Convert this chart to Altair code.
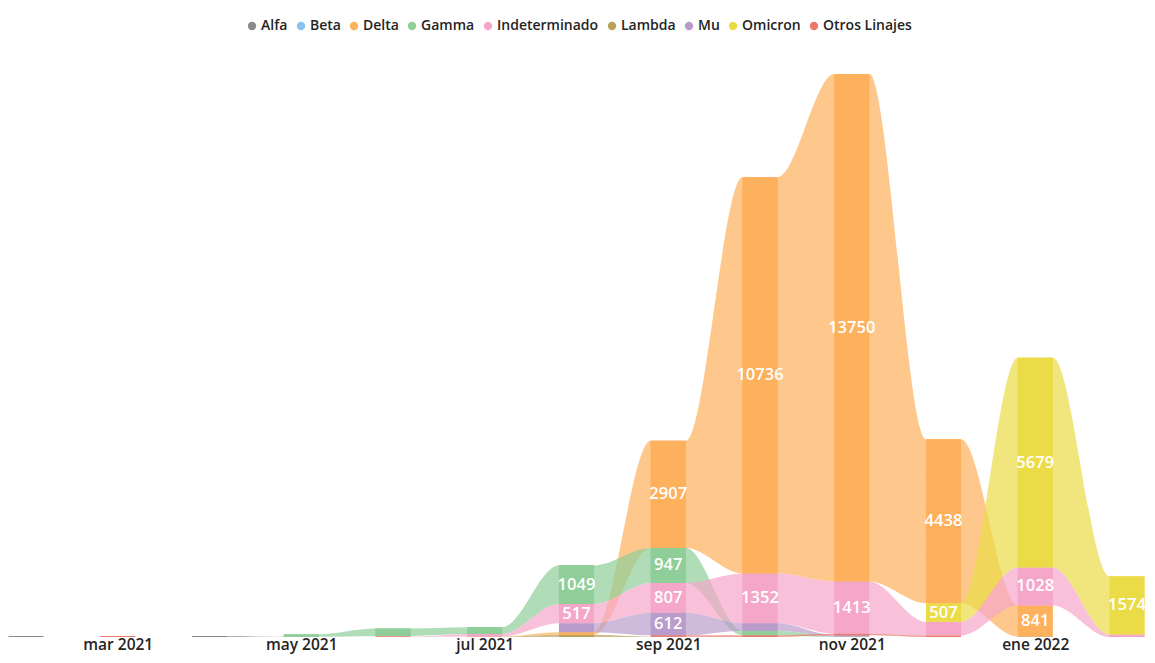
import json
import altair as alt
import pandas as pd

# ---------------- data ----------------
months = ["feb 2021", "mar 2021", "abr 2021", "may 2021", "jun 2021", "jul 2021",
          "ago 2021", "sep 2021", "oct 2021", "nov 2021", "dic 2021", "ene 2022", "feb 2022"]
tick_months = ["mar 2021", "may 2021", "jul 2021", "sep 2021", "nov 2021", "ene 2022"]

categories = ["Alfa", "Beta", "Delta", "Gamma", "Indeterminado", "Lambda", "Mu",
              "Omicron", "Otros Linajes"]
colors = ["#8A8A8A", "#8AC2EB", "#FDB15C", "#8FCE98", "#F5A7C9", "#BCA15B", "#B99CCB",
          "#EBDC47", "#EC7868"]

alfa = [25, 0, 25, 5, 0, 0, 0, 0, 0, 0, 0, 15, 0]
beta = [0, 0, 0, 0, 0, 0, 0, 0, 0, 0, 0, 0, 0]
delta = [0, 0, 0, 0, 0, 10, 70, 2907, 10736, 13750, 4438, 841, 0]
gamma = [0, 0, 0, 70, 200, 185, 1049, 947, 120, 15, 0, 0, 0]
indeterminado = [0, 0, 0, 0, 5, 65, 517, 807, 1352, 1413, 370, 1028, 70]
lambda_ = [0, 0, 0, 0, 0, 5, 60, 10, 0, 0, 0, 0, 0]
mu = [0, 0, 0, 0, 0, 0, 245, 612, 200, 30, 0, 0, 0]
omicron = [0, 0, 0, 0, 0, 0, 0, 0, 0, 0, 507, 5679, 1574]
otros = [0, 25, 0, 0, 25, 0, 0, 35, 50, 45, 40, 0, 0]

series = {
    "Alfa": alfa, "Beta": beta, "Delta": delta, "Gamma": gamma,
    "Indeterminado": indeterminado, "Lambda": lambda_, "Mu": mu,
    "Omicron": omicron, "Otros Linajes": otros,
}

# ---------------- ribbon layout (rank-stacked, largest on top) ----------------
HW = 0.191  # half bar width in month units
bars = []
pos = {}
for i in range(len(months)):
    vals = sorted([(series[c][i], c) for c in categories if series[c][i] > 0])
    base = 0
    for v, c in vals:
        bars.append(dict(cat=c, i=i, x0=i - HW, x1=i + HW, y0=base, y1=base + v,
                         ym=base + v / 2, v=v))
        pos[(c, i)] = (base, base + v)
        base += v
bars_df = pd.DataFrame(bars)
labels_df = bars_df[bars_df["v"] >= 480]

rib = []
for c in categories:
    for i in range(len(months) - 1):
        if (c, i) in pos and (c, i + 1) in pos:
            a0, a1 = pos[(c, i)]
            b0, b1 = pos[(c, i + 1)]
            seg = f"{c}-{i}"
            for x, y0, y1 in [(i - HW, a0, a1), (i + HW, a0, a1),
                              (i + 1 - HW, b0, b1), (i + 1 + HW, b0, b1)]:
                rib.append(dict(cat=c, seg=seg, x=x, y0=y0, y1=y1))
rib_df = pd.DataFrame(rib)

FONT = "Open Sans"
xscale = alt.Scale(domain=[-0.1962, 12.218], nice=False, zero=False)
yscale = alt.Scale(domain=[0, 15850], nice=False, zero=True)
cscale = alt.Scale(domain=categories, range=colors)

label_expr = json.dumps(months) + "[datum.value]"
tick_vals = [months.index(m) for m in tick_months]

x_axis = alt.Axis(values=tick_vals, labelExpr=label_expr, title=None,
                  domain=False, ticks=False, grid=False, labelOverlap=False,
                  labelFont=FONT, labelFontSize=15.5, labelFontWeight=600,
                  labelColor="#252423", labelPadding=0)
legend = alt.Legend(title=None, orient="none", direction="horizontal",
                    legendX=237, legendY=-33, symbolType="circle",
                    symbolSize=70, symbolOpacity=1, symbolStrokeWidth=0,
                    labelFont=FONT, labelFontSize=14, labelFontWeight=600,
                    labelColor="#252423", labelOffset=2, columnPadding=6)

ribbons = alt.Chart(rib_df).mark_area(interpolate="monotone", opacity=0.7).encode(
    x=alt.X("x:Q", scale=xscale, axis=x_axis),
    y=alt.Y("y1:Q", scale=yscale, stack=None, axis=None),
    y2="y0:Q",
    color=alt.Color("cat:N", scale=cscale, legend=legend),
    detail="seg:N",
)

bar_layer = alt.Chart(bars_df).mark_bar(opacity=1).encode(
    x=alt.X("x0:Q", scale=xscale, axis=x_axis),
    x2="x1:Q",
    y=alt.Y("y1:Q", scale=yscale, axis=None),
    y2="y0:Q",
    color=alt.Color("cat:N", scale=cscale, legend=legend),
)

text_layer = alt.Chart(labels_df).mark_text(
    color="white", font=FONT, fontSize=16.5, fontWeight=600, baseline="middle", align="center"
).encode(
    x=alt.X("i:Q", scale=xscale, axis=x_axis),
    y=alt.Y("ym:Q", scale=yscale, axis=None),
    text=alt.Text("v:Q", format="d"),
)

chart = alt.layer(ribbons, bar_layer, text_layer).properties(
    width=1139, height=585,
    padding={"left": 0, "right": 0, "top": 44, "bottom": 18},
    autosize=alt.AutoSizeParams(type="none"),
    background="white",
).configure_view(stroke=None)

chart.save("out.html", embed_options={"renderer": "svg", "actions": False})
